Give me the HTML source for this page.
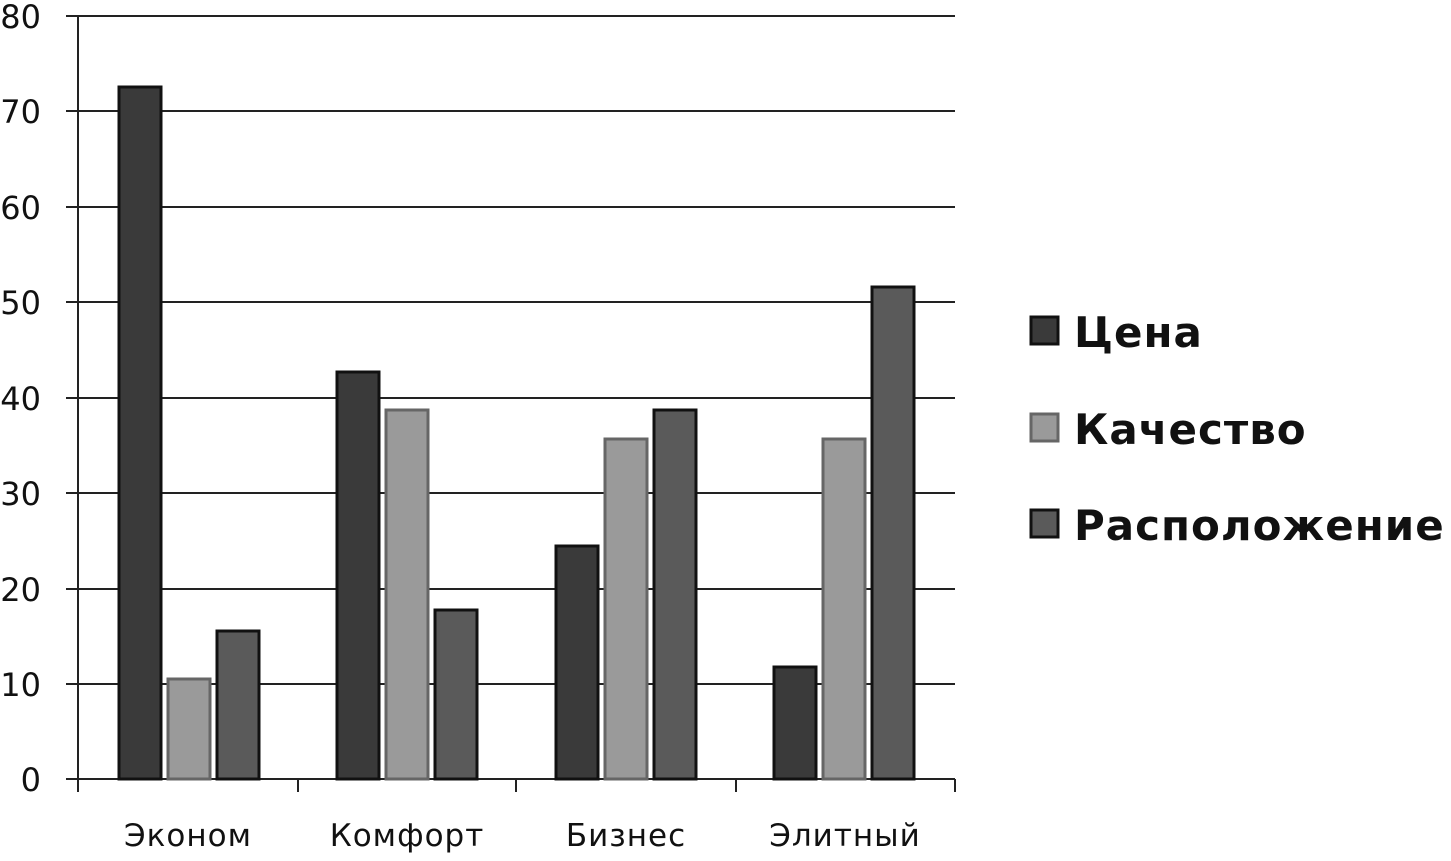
<!DOCTYPE html>
<html><head><meta charset="utf-8"><style>body{margin:0;background:#fff}</style></head><body>
<svg width="1451" height="856" xmlns="http://www.w3.org/2000/svg" font-family="'DejaVu Sans','Liberation Sans',sans-serif">
<rect width="1451" height="856" fill="#fff"/>
<g stroke="#222" stroke-width="2">
<line x1="66" y1="16" x2="955" y2="16"/><line x1="66" y1="111" x2="955" y2="111"/><line x1="66" y1="207" x2="955" y2="207"/><line x1="66" y1="302" x2="955" y2="302"/><line x1="66" y1="398" x2="955" y2="398"/><line x1="66" y1="493" x2="955" y2="493"/><line x1="66" y1="589" x2="955" y2="589"/><line x1="66" y1="684" x2="955" y2="684"/><line x1="66" y1="779" x2="955" y2="779"/>
<line x1="78" y1="16" x2="78" y2="792"/>
<line x1="298" y1="779" x2="298" y2="792"/><line x1="516" y1="779" x2="516" y2="792"/><line x1="736" y1="779" x2="736" y2="792"/><line x1="955" y1="779" x2="955" y2="792"/>
</g>
<g font-size="32" fill="#111" text-anchor="end">
<text x="41" y="28">80</text><text x="41" y="123">70</text><text x="41" y="219">60</text><text x="41" y="314">50</text><text x="41" y="410">40</text><text x="41" y="505">30</text><text x="41" y="601">20</text><text x="41" y="696">10</text><text x="41" y="791">0</text>
</g>
<g stroke-width="3">
<g fill="#3a3a3a" stroke="#111">
<rect x="119" y="87" width="42" height="692"/><rect x="337" y="372" width="42" height="407"/><rect x="556" y="546" width="42" height="233"/><rect x="774" y="667" width="42" height="112"/>
</g>
<g fill="#9a9a9a" stroke="#666">
<rect x="168" y="679" width="42" height="100"/><rect x="386" y="410" width="42" height="369"/><rect x="605" y="439" width="42" height="340"/><rect x="823" y="439" width="42" height="340"/>
</g>
<g fill="#5a5a5a" stroke="#111">
<rect x="217" y="631" width="42" height="148"/><rect x="435" y="610" width="42" height="169"/><rect x="654" y="410" width="42" height="369"/><rect x="872" y="287" width="42" height="492"/>
</g>
</g>
<g font-size="31" fill="#111" text-anchor="middle" letter-spacing="1">
<text x="188" y="846">Эконом</text><text x="407" y="846">Комфорт</text><text x="626" y="846">Бизнес</text><text x="845" y="846">Элитный</text>
</g>
<rect x="1031" y="317" width="27" height="27" fill="#3a3a3a" stroke="#111" stroke-width="3"/>
<rect x="1031" y="414" width="27" height="27" fill="#9a9a9a" stroke="#666" stroke-width="3"/>
<rect x="1031" y="510" width="27" height="27" fill="#5a5a5a" stroke="#111" stroke-width="3"/>
<g font-size="42" font-weight="bold" fill="#111" letter-spacing="1">
<text x="1074" y="347">Цена</text><text x="1074" y="444">Качество</text><text x="1074" y="540">Расположение</text>
</g>
</svg>
</body></html>
